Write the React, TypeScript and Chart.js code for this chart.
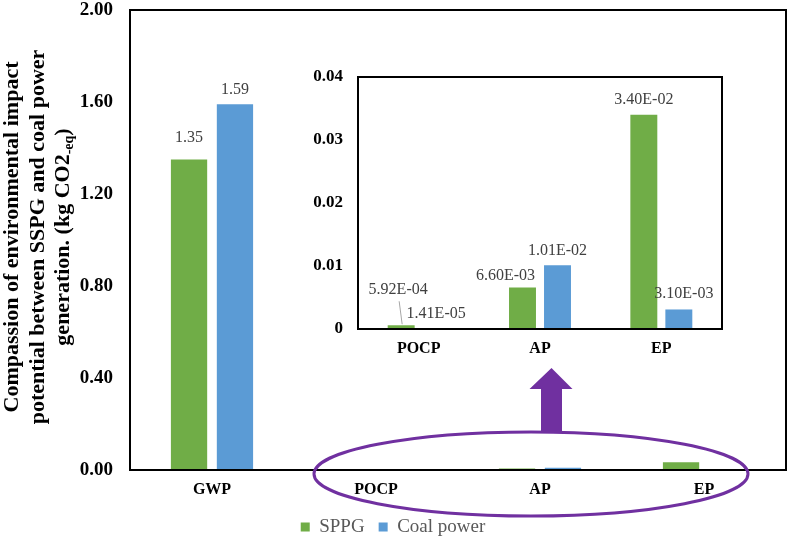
import React, { useEffect, useRef } from 'react';
import { Chart, registerables } from 'chart.js';

Chart.register(...registerables);

const categories = ['GWP', 'POCP', 'AP', 'EP'];
const sppg = [1.35, 5.92e-4, 6.6e-3, 3.4e-2];
const coal = [1.59, 1.41e-5, 1.01e-2, 3.1e-3];
const mainTicks = [0, 0.4, 0.8, 1.2, 1.6, 2.0];

// the inset zooms in on the three small categories
const insetCategories = categories.slice(1);
const insetSppg = sppg.slice(1);
const insetCoal = coal.slice(1);
const insetTicks = [0, 0.01, 0.02, 0.03, 0.04];

const GREEN = '#70AD47';
const BLUE = '#5B9BD5';
const PURPLE = '#7030A0';
const SERIF = '"Liberation Serif", "Times New Roman", serif';

const sci = (v: number) => {
  const [m, e] = v.toExponential(2).split('e');
  const n = parseInt(e, 10);
  return m + 'E' + (n < 0 ? '-' : '+') + String(Math.abs(n)).padStart(2, '0');
};

interface LabelItem { ds: number; i: number; dx: number; dy: number; leader?: boolean }

const makeLabels = (items: LabelItem[], format: (v: number) => string) => ({
  id: 'valueLabels',
  afterDatasetsDraw(chart: any) {
    const ctx = chart.ctx;
    ctx.save();
    ctx.font = `16px ${SERIF}`;
    ctx.fillStyle = '#404040';
    ctx.textAlign = 'center';
    ctx.textBaseline = 'middle';
    items.forEach(it => {
      const bar = chart.getDatasetMeta(it.ds).data[it.i];
      const value = chart.data.datasets[it.ds].data[it.i] as number;
      const x = bar.x + it.dx;
      const y = bar.y + it.dy;
      ctx.fillText(format(value), x, y);
      if (it.leader) {
        ctx.strokeStyle = '#a6a6a6';
        ctx.lineWidth = 1;
        ctx.beginPath();
        ctx.moveTo(x + 1, y + 11);
        ctx.lineTo(bar.x + 1, bar.y - 1);
        ctx.stroke();
      }
    });
    ctx.restore();
  },
});

const frame = {
  id: 'frame',
  afterDatasetsDraw(chart: any) {
    const { ctx, chartArea: a } = chart;
    ctx.save();
    ctx.strokeStyle = '#000';
    ctx.lineWidth = 2;
    ctx.strokeRect(a.left, a.top, a.right - a.left, a.bottom - a.top);
    ctx.restore();
  },
};

const noScalePadding = (s: any) => {
  s.paddingTop = 0;
  s.paddingBottom = 0;
  s.paddingLeft = 0;
  s.paddingRight = 0;
};

const yTitle = {
  id: 'yTitle',
  afterDraw(chart: any) {
    const ctx = chart.ctx;
    const cy = 237;
    ctx.save();
    ctx.translate(0, cy);
    ctx.rotate(-Math.PI / 2);
    ctx.fillStyle = '#000';
    ctx.textBaseline = 'alphabetic';
    const big = `bold 22px ${SERIF}`;
    const small = `bold 14px ${SERIF}`;
    ctx.font = big;
    ctx.textAlign = 'center';
    ctx.fillText('Compassion of environmental impact', 0, 18);
    ctx.fillText('potential between SSPG and coal power', 0, 43.5);
    // last line carries a subscript
    const a = 'generation. (kg CO2';
    const b = '-eq';
    const c = ')';
    const wa = ctx.measureText(a).width;
    const wc = ctx.measureText(c).width;
    ctx.font = small;
    const wb = ctx.measureText(b).width;
    let u = -(wa + wb + wc) / 2;
    ctx.textAlign = 'left';
    ctx.font = big;
    ctx.fillText(a, u, 69);
    u += wa;
    ctx.font = small;
    ctx.fillText(b, u, 73);
    u += wb;
    ctx.font = big;
    ctx.fillText(c, u, 69);
    ctx.restore();
  },
};

const callout = {
  id: 'callout',
  afterDraw(chart: any) {
    const { ctx, chartArea } = chart;
    const xAP = chart.scales.x.getPixelForValue(2);
    const cx = xAP - 9;
    const cy = chartArea.bottom + 4;
    const rx = 217;
    const ry = 42;
    const ax = xAP + 11.5;
    const top = cy - ry;
    ctx.save();
    ctx.fillStyle = PURPLE;
    ctx.beginPath();
    ctx.moveTo(ax - 10.5, top);
    ctx.lineTo(ax - 10.5, top - 43);
    ctx.lineTo(ax - 22, top - 43);
    ctx.lineTo(ax, top - 64);
    ctx.lineTo(ax + 21, top - 43);
    ctx.lineTo(ax + 10.5, top - 43);
    ctx.lineTo(ax + 10.5, top);
    ctx.closePath();
    ctx.fill();
    ctx.strokeStyle = PURPLE;
    ctx.lineWidth = 3;
    ctx.beginPath();
    ctx.ellipse(cx, cy, rx, ry, 0, 0, Math.PI * 2);
    ctx.stroke();
    ctx.restore();
  },
};

const legendShift = {
  id: 'legendShift',
  afterLayout(chart: any) {
    if (chart.legend) {
      chart.legend.top += 8.5;
      chart.legend.bottom += 8.5;
    }
  },
};

const App: React.FC = () => {
  const mainRef = useRef<HTMLCanvasElement | null>(null);
  const insetRef = useRef<HTMLCanvasElement | null>(null);

  useEffect(() => {
    document.body.style.margin = '0';
    const mainCtx = mainRef.current?.getContext('2d');
    const insetCtx = insetRef.current?.getContext('2d');
    if (!mainCtx || !insetCtx) return;

    const main = new Chart(mainCtx, {
      type: 'bar',
      data: {
        labels: categories,
        datasets: [
          { label: 'SPPG', data: sppg, backgroundColor: GREEN, barPercentage: 0.79, categoryPercentage: 0.56 },
          { label: 'Coal power', data: coal, backgroundColor: BLUE, barPercentage: 0.79, categoryPercentage: 0.56 },
        ],
      },
      options: {
        animation: false,
        responsive: false,
        layout: { padding: { top: 10, right: 3, left: 0, bottom: 0 } },
        scales: {
          x: {
            grid: { display: false, drawTicks: false },
            border: { display: false },
            ticks: { color: '#000', font: { family: SERIF, size: 16, weight: 'bold' }, padding: 10 },
            afterFit: (s: any) => { s.height = 25; noScalePadding(s); },
          },
          y: {
            min: 0,
            max: 2,
            grid: { display: false, drawTicks: false },
            border: { display: false },
            afterBuildTicks: (s: any) => { s.ticks = mainTicks.map(v => ({ value: v })); },
            ticks: {
              color: '#000',
              font: { family: SERIF, size: 19, weight: 'bold' },
              padding: 17,
              callback: (v: any) => Number(v).toFixed(2),
            },
            afterFit: (s: any) => { s.width = 130; noScalePadding(s); },
          },
        },
        plugins: {
          legend: {
            position: 'bottom',
            labels: { boxWidth: 9, boxHeight: 9, padding: 14, color: '#595959', font: { family: SERIF, size: 19 } },
          },
          tooltip: { enabled: false },
        },
      },
      plugins: [
        frame,
        makeLabels([
          { ds: 0, i: 0, dx: 0, dy: -22 },
          { ds: 1, i: 0, dx: 0, dy: -15 },
        ], v => v.toFixed(2)),
        yTitle,
        callout,
        legendShift,
      ],
    });

    const inset = new Chart(insetCtx, {
      type: 'bar',
      data: {
        labels: insetCategories,
        datasets: [
          { label: 'SPPG', data: insetSppg, backgroundColor: GREEN, barPercentage: 0.77, categoryPercentage: 0.577 },
          { label: 'Coal power', data: insetCoal, backgroundColor: BLUE, barPercentage: 0.77, categoryPercentage: 0.577 },
        ],
      },
      options: {
        animation: false,
        responsive: false,
        layout: { padding: { top: 17, right: 14, left: 0, bottom: 0 } },
        scales: {
          x: {
            grid: { display: false, drawTicks: false },
            border: { display: false },
            ticks: { color: '#000', font: { family: SERIF, size: 16, weight: 'bold' }, padding: 10 },
            afterFit: (s: any) => { s.height = 31; noScalePadding(s); },
          },
          y: {
            min: 0,
            max: 0.04,
            grid: { display: false, drawTicks: false },
            border: { display: false },
            afterBuildTicks: (s: any) => { s.ticks = insetTicks.map(v => ({ value: v })); },
            ticks: {
              color: '#000',
              font: { family: SERIF, size: 17, weight: 'bold' },
              padding: 15,
              callback: (v: any) => (Number(v) === 0 ? '0' : Number(v).toFixed(2)),
            },
            afterFit: (s: any) => { s.width = 62; noScalePadding(s); },
          },
        },
        plugins: { legend: { display: false }, tooltip: { enabled: false } },
      },
      plugins: [
        frame,
        makeLabels([
          { ds: 0, i: 0, dx: -3, dy: -35, leader: true },
          { ds: 1, i: 0, dx: 0, dy: -15 },
          { ds: 0, i: 1, dx: -17, dy: -12 },
          { ds: 1, i: 1, dx: 0, dy: -15 },
          { ds: 0, i: 2, dx: 0, dy: -15 },
          { ds: 1, i: 2, dx: 5, dy: -16 },
        ], sci),
      ],
    });

    return () => {
      main.destroy();
      inset.destroy();
    };
  }, []);

  return (
    <div style={{ position: 'relative', width: 789, height: 538 }}>
      <canvas ref={mainRef} width={789} height={538} style={{ position: 'absolute', left: 0, top: 0 }} />
      <canvas ref={insetRef} width={440} height={300} style={{ position: 'absolute', left: 296, top: 60 }} />
    </div>
  );
};

export default App;
